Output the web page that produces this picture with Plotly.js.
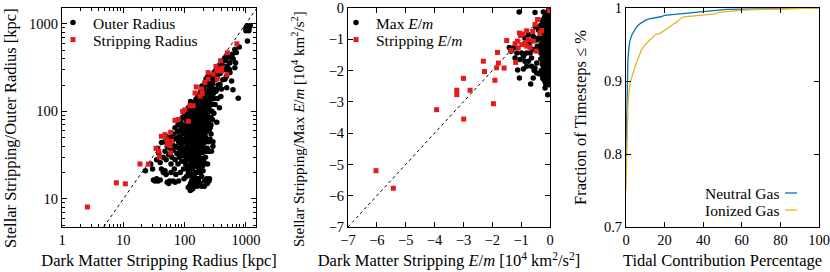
<!DOCTYPE html>
<html><head><meta charset="utf-8">
<script src="https://cdn.plot.ly/plotly-3.0.1.min.js"></script>
<style>html,body{margin:0;padding:0;background:#fff;}#chart{width:830px;height:272px;}</style>
</head><body><div id="chart"></div>
<script>
// ---------- Panel 1: radii (kpc) ----------
const outerRadiusPts = [
[23,21],[28,25],[31,16.5],[33,16],[35,17],[37,16],[40,16.5],[30,22],[35,28],[38,33],[40,26],[42,22],[36,38],
[45,20],[48,21],[50,19],[52,15.5],[55,15],[57,16],[45,30],[48,35],[50,28],[52,40],[55,32],[55,45],[58,38],[58,50],[60,25],[60,20],[47,45],[50,52],[42,44],
[62,30],[63,42],[65,36],[65,55],[67,48],[68,22],[70,28],[70,65],[72,40],[72,19],[75,33],[75,50],[76,58],[78,70],[78,25],[80,45],[80,16],[80,38],[65,16],[70,15.5],
[82,30],[83,60],[85,52],[85,20],[86,75],[88,42],[88,34],[90,65],[90,27],[92,48],[92,85],[95,38],[95,56],[96,22],[97,70],[98,31],[98,17],[99,90],[100,45],
[102,60],[103,36],[104,25],[105,80],[106,50],[107,18],[108,68],[109,42],[110,30],[110,95],[112,55],[113,22],[114,75],[115,38],[116,105],[117,48],[118,28],[119,62],[120,14],[120,85],[121,33],[122,20],[123,52],[124,70],[125,44],[126,13],[126,110],[127,25],[128,58],[129,36],[130,16],[130,78],[130,90],
[132,48],[133,30],[134,65],[135,22],[136,100],[137,40],[138,13.5],[139,55],[140,120],[141,28],[142,72],[143,35],[144,18],[145,85],[146,46],[147,60],[148,24],[149,130],[150,15],[150,95],[151,38],[152,68],[153,52],[154,20],[155,110],[156,30],[157,80],[158,44],[159,140],[160,14],[160,62],[162,26],[163,100],[164,36],[165,75],[166,50],[167,17],[168,120],[169,58],[170,32],
[172,88],[173,42],[174,150],[175,22],[176,66],[177,105],[178,48],[179,15],[180,130],[181,36],[182,78],[183,56],[184,170],[185,28],[186,95],[187,40],[188,14],[189,115],[190,62],[192,195],[193,46],[194,85],[195,34],[196,140],[197,70],[198,24],[199,52],[200,160],[202,100],[204,38],[205,75],[207,185],[208,58],[210,120],[212,44],[213,16],[214,90],[215,210],[216,66],[218,140],[219,30],[220,105],
[222,50],[224,235],[226,80],[228,170],[230,60],[232,120],[234,38],[235,200],[237,95],[239,16],[240,250],[242,70],[244,150],[246,45],[248,110],[250,220],[252,85],[255,17],[256,180],[258,130],[262,65],[265,100],[268,240],[270,55],[272,160],[275,35],[278,200],[280,120],[286,80],[290,260],[293,140],[296,180],[300,95],
[95,45],[100,58],[105,33],[108,88],[112,40],[115,62],[118,52],[122,44],[125,95],[128,40],[131,60],[134,50],[137,75],[140,42],[143,58],[146,33],[149,70],[152,45],[155,88],[158,54],[161,40],[164,66],[167,30],[170,48],[173,60],[176,85],[179,38],[182,65],[185,50],[188,72],[191,34],[194,58],[197,95],[200,42],[203,68],[206,50],[209,80],[212,36],[216,55],[220,70],
[100,27],[110,24],[120,24],[135,26],[150,27],[165,23],[180,25],[195,29],[210,26],[225,35],[140,19],[160,20],[180,20],[200,21],[130,18],[115,20],[190,18],[170,16],[150,17],[125,15],[140,14.5],[210,14],[235,15],[250,16],[115,13.5],[124,12.5],[135,13],[145,15.5],[230,17],
[105,100],[115,110],[125,130],[135,85],[145,110],[155,130],[165,150],[175,120],[185,145],[195,115],[205,135],[215,160],[225,125],[235,100],[245,130],[255,160],[265,140],[275,180],[285,210],[295,160],[230,90],[240,75],[250,60],[260,48],[270,85],[280,100],[290,45],[250,35],[270,70],[300,140],[237,25],[290,40],
[305,280],[310,230],[315,120],[320,290],[325,170],[335,75],[340,250],[345,140],[350,200],[358,330],[365,300],[370,110],[380,270],[391,148],[400,180],[410,340],[420,230],[430,380],[440,300],[455,232],[470,380],[480,250],[487,300],[500,330],[455,410],[520,420],[540,300],[550,360],[550,277],[585,410],[585,222],[487,186],[378,203],[333,178],
[600,450],[620,400],[660,510],[660,315],[680,360],[700,470],[780,542],[750,141],[616,177],
[1000,900],[1030,870],[1050,950],[1060,850],[1080,910],[1100,880],[1120,830],[1140,900],[1000,830],[1060,635],[1180,950]
];
const stripRadiusPts = [
[2.6,8.1],[7.7,15.3],[10.8,14.9],[18.7,25.1],[25.6,25],[34.2,37.8],[38.7,30.2],[37.9,35],[41.7,51.9],[47.9,54.3],[50.9,47.5],[52.8,41.7],[57.8,40.7],[59.3,57.7],[61.5,45.5],[59.3,33.6],
[69.7,79],[79,80.6],[93,100],[101,104],[115,77],[122,116],[138,116],[155,190],[148,162],[179,149],[194,160],[190,180],[215,214],[242,234],[242,277],[293,266],[325,326],[333,301],[355,293],
[385,378],[402,312],[402,288],[492,263],[340,234],[500,466],[712,590]
];
const diagRadius = [4.8, 1500];

// ---------- Panel 2: E/m (10^4 km^2/s^2) ----------
const maxEmPts = [
[-1.07,-0.13],[-0.52,-0.14],[-0.23,-0.13],[-1.41,-1.26],[-1.35,-1.38],[-1.27,-1.28],[-1.06,-2.24],[-0.98,-1.44],[-0.92,-1.54],[-0.81,-1.86],[-0.75,-1.70],[-0.69,-1.44],[-0.64,-1.60],[-0.64,-1.86],[-0.67,-2.43],[-0.58,-2.24],[-0.52,-1.92],[-0.46,-1.76],[-0.46,-2.08],[-0.44,-1.22],[-0.40,-0.96],[-0.58,-0.91],[-0.75,-0.85],[-0.87,-0.96],[-0.17,-2.56],[-0.08,-2.77],[-1.15,-1.44],[-1.21,-1.60],[-1.04,-1.65],[-0.87,-1.70],[-0.58,-1.33],[-0.81,-1.44],[-1.12,-1.98],[-0.92,-1.95],[-0.55,-2.0],[-0.38,-2.1],[-0.7,-1.1],[-0.5,-0.6],
[-0.02,-0.1],[-0.05,-0.2],[-0.1,-0.3],[-0.03,-0.35],[-0.15,-0.4],[-0.08,-0.45],[-0.2,-0.5],[-0.02,-0.55],[-0.12,-0.6],[-0.25,-0.62],[-0.05,-0.68],[-0.18,-0.7],[-0.3,-0.75],[-0.1,-0.78],[-0.02,-0.82],[-0.22,-0.85],[-0.14,-0.9],[-0.06,-0.95],[-0.35,-0.98],[-0.26,-1.0],[-0.02,-1.02],[-0.11,-1.05],[-0.19,-1.1],[-0.05,-1.13],[-0.3,-1.15],[-0.14,-1.18],[-0.08,-1.22],[-0.23,-1.25],[-0.02,-1.28],[-0.17,-1.3],[-0.1,-1.35],[-0.28,-1.38],[-0.04,-1.4],[-0.2,-1.43],[-0.13,-1.47],[-0.07,-1.5],[-0.25,-1.52],[-0.02,-1.55],[-0.16,-1.58],[-0.1,-1.62],[-0.32,-1.63],[-0.05,-1.67],[-0.21,-1.7],[-0.13,-1.73],[-0.03,-1.77],[-0.27,-1.8],[-0.09,-1.82],[-0.17,-1.86],[-0.02,-1.9],[-0.12,-1.93],[-0.24,-1.96],[-0.06,-2.0],[-0.15,-2.03],[-0.03,-2.07],[-0.2,-2.1],[-0.1,-2.13],[-0.05,-2.18],[-0.14,-2.22],[-0.02,-2.26],[-0.08,-2.3],[-0.18,-2.33],
[-0.04,-0.05],[-0.12,-0.15],[-0.07,-0.25],[-0.18,-0.28],[-0.01,-0.4],[-0.25,-0.42],[-0.1,-0.52],[-0.32,-0.55],[-0.06,-0.6],[-0.15,-0.66],[-0.4,-0.7],[-0.02,-0.73],[-0.27,-0.8],[-0.09,-0.86],[-0.17,-0.95],[-0.04,-0.98],[-0.45,-1.02],[-0.14,-1.08],[-0.07,-1.1],[-0.24,-1.2],[-0.01,-1.2],[-0.36,-1.3],[-0.12,-1.32],[-0.06,-1.45],[-0.19,-1.55],[-0.01,-1.6],[-0.27,-1.65],[-0.08,-1.72],[-0.15,-1.8],[-0.01,-1.85],[-0.22,-1.9],[-0.07,-1.95],[-0.3,-2.0],[-0.11,-2.05],[-0.01,-2.12],[-0.17,-2.16],[-0.25,-2.25],[-0.06,-2.35],[-0.12,-2.28],
[-0.03,-0.15],[-0.09,-0.38],[-0.21,-0.35],[-0.14,-0.48],[-0.04,-0.5],[-0.28,-0.68],[-0.12,-0.72],[-0.06,-0.8],[-0.19,-0.78],[-0.11,-0.93],[-0.21,-1.05],[-0.04,-1.07],[-0.16,-1.25],[-0.09,-1.28],[-0.03,-1.33],[-0.22,-1.35],[-0.13,-1.4],[-0.31,-1.45],[-0.04,-1.48],[-0.1,-1.55],[-0.23,-1.6],[-0.13,-1.65],[-0.05,-1.73],[-0.19,-1.76],[-0.11,-1.88],[-0.04,-1.83],[-0.2,-2.0],[-0.03,-2.0],[-0.13,-2.1],[-0.27,-2.15],[-0.09,-2.22],[-0.21,-2.28],[-0.04,-2.2],[-0.15,-2.42],[-0.03,-2.45]
];
const stripEmPts = [
[-6.03,-5.20],[-5.43,-5.76],[-3.93,-3.25],[-3.23,-2.63],[-3.23,-2.77],[-3.00,-2.25],[-2.99,-3.55],[-2.77,-2.63],[-2.31,-1.70],[-2.27,-2.03],[-1.91,-2.31],[-1.96,-3.06],[-1.82,-1.42],[-1.79,-1.76],[-1.85,-1.91],[-1.59,-1.92],
[-1.50,-1.04],[-1.35,-1.36],[-1.19,-1.74],[-1.21,-1.14],[-1.13,-1.06],[-1.06,-0.80],[-1.02,-0.88],[-0.98,-1.17],[-0.87,-1.12],[-0.81,-0.73],[-0.81,-1.22],[-0.69,-1.26],[-0.60,-0.75],[-0.52,-0.53],[-0.48,-1.38],[-0.43,-0.37],[-0.35,-0.80],[-0.29,-0.72],[-0.02,-0.09],[-0.58,-1.06],[-0.75,-1.01],[-0.95,-0.83],[-1.10,-1.28]
];
const diagEm = [-7, 0];

// ---------- Panel 3: cumulative tidal contribution ----------
const tidalPctNeutral = [0, 0.3, 0.6, 1.0, 1.5, 2, 3, 4, 5, 6.5, 8, 10, 12, 14, 16, 18, 20, 24, 28, 32, 36, 40, 46, 52, 60, 70, 80, 90, 100];
const fracNeutral = [0.80, 0.86, 0.905, 0.93, 0.945, 0.955, 0.963, 0.968, 0.972, 0.977, 0.980, 0.983, 0.985, 0.986, 0.986, 0.988, 0.990, 0.991, 0.992, 0.993, 0.995, 0.996, 0.997, 0.998, 0.9985, 0.999, 0.9993, 0.9997, 1.0];
const tidalPctIonized = [0, 0.3, 0.6, 1.0, 1.5, 2, 3, 4, 5, 6.5, 8, 10, 12, 14, 15, 18, 20, 22, 24, 26, 28, 30, 34, 38, 42, 46, 48, 52, 56, 60, 70, 80, 90, 100];
const fracIonized = [0.75, 0.80, 0.84, 0.865, 0.885, 0.895, 0.905, 0.915, 0.922, 0.932, 0.943, 0.950, 0.955, 0.960, 0.963, 0.966, 0.969, 0.973, 0.977, 0.980, 0.985, 0.988, 0.989, 0.990, 0.991, 0.992, 0.994, 0.995, 0.996, 0.997, 0.998, 0.999, 0.9995, 1.0];

// ---------- styling ----------
const FONT = 'Liberation Serif';
const RED = 'rgb(228,26,28)';
const BLUE = '#0072BD';
const ORANGE = '#EDB120';
const W = 830, H = 272;
const TS = 16.5;
const LS = 15.5;
const px = v => v / W, py = v => 1 - v / H;

const traces = [
  {x: diagRadius, y: diagRadius, mode: 'lines', line: {color: 'black', width: 1, dash: '3px,3px'}, xaxis: 'x', yaxis: 'y', showlegend: false},
  {x: outerRadiusPts.map(p => p[0]), y: outerRadiusPts.map(p => p[1]), mode: 'markers', name: 'Outer Radius',
   marker: {color: 'black', size: 5.5, symbol: 'circle'}, xaxis: 'x', yaxis: 'y', legend: 'legend'},
  {x: stripRadiusPts.map(p => p[0]), y: stripRadiusPts.map(p => p[1]), mode: 'markers', name: 'Stripping Radius',
   marker: {color: RED, size: 5, symbol: 'square'}, xaxis: 'x', yaxis: 'y', legend: 'legend2'},
  {x: diagEm, y: diagEm, mode: 'lines', line: {color: 'black', width: 1, dash: '3px,3px'}, xaxis: 'x2', yaxis: 'y2', showlegend: false},
  {x: maxEmPts.map(p => p[0]), y: maxEmPts.map(p => p[1]), mode: 'markers', name: 'Max <i>E</i>/<i>m</i>',
   marker: {color: 'black', size: 5.5, symbol: 'circle'}, xaxis: 'x2', yaxis: 'y2', legend: 'legend3'},
  {x: stripEmPts.map(p => p[0]), y: stripEmPts.map(p => p[1]), mode: 'markers', name: 'Stripping <i>E</i>/<i>m</i>',
   marker: {color: RED, size: 5, symbol: 'square'}, xaxis: 'x2', yaxis: 'y2', legend: 'legend4'},
  {x: tidalPctNeutral, y: fracNeutral, mode: 'lines', name: 'Neutral Gas', line: {color: BLUE, width: 1.3}, xaxis: 'x3', yaxis: 'y3', showlegend: false},
  {x: tidalPctIonized, y: fracIonized, mode: 'lines', name: 'Ionized Gas', line: {color: ORANGE, width: 1.3}, xaxis: 'x3', yaxis: 'y3', showlegend: false}
];

const axBase = {
  showline: true, linecolor: 'black', linewidth: 1, mirror: 'allticks', ticks: 'inside', ticklen: 5, tickcolor: 'black',
  showgrid: false, zeroline: false, tickfont: {family: FONT, size: 14.5, color: 'black'}, automargin: false
};
const tf = {family: FONT, size: TS, color: 'black'};
const minorLog = {ticks: 'inside', ticklen: 3, tickcolor: 'black', dtick: 'D1', showgrid: false};
const yDom = [45 / H, 264 / H];

function leg(x, y) {
  return {x: px(x), y: py(y), xanchor: 'left', yanchor: 'middle', bgcolor: 'rgba(0,0,0,0)', borderwidth: 0,
          font: {family: FONT, size: LS, color: 'black'}, itemwidth: 30, tracegroupgap: 0};
}
function ytitle(text, x, y, size) {
  return {text: text, x: px(x), y: py(y), xref: 'paper', yref: 'paper', xanchor: 'center', yanchor: 'middle',
          textangle: -90, showarrow: false, font: {family: FONT, size: size, color: 'black'}};
}
function legText(text, y) {
  return {text: text, x: px(781), y: py(y), xref: 'paper', yref: 'paper', xanchor: 'right', yanchor: 'middle',
          showarrow: false, font: {family: FONT, size: LS, color: 'black'}};
}

const layout = {
  width: W, height: H, margin: {l: 0, r: 0, t: 0, b: 0},
  paper_bgcolor: 'white', plot_bgcolor: 'white', font: {family: FONT, color: 'black'},
  xaxis: Object.assign({}, axBase, {type: 'log', range: [0, 3.165], domain: [px(62), px(256)], anchor: 'y',
    tickvals: [1, 10, 100, 1000], ticktext: ['1', '10', '100', '1000'], minor: minorLog,
    title: {text: 'Dark Matter Stripping Radius [kpc]', font: tf, standoff: 7}}),
  yaxis: Object.assign({}, axBase, {type: 'log', range: [0.68, 3.18], domain: yDom, anchor: 'x',
    tickvals: [10, 100, 1000], ticktext: ['10', '100', '1000'], minor: minorLog}),
  xaxis2: Object.assign({}, axBase, {range: [-7, 0], dtick: 1, domain: [px(348), px(550)], anchor: 'y2',
    title: {text: 'Dark Matter Stripping <i>E</i>/<i>m</i> [10<sup>4</sup> km<sup>2</sup>/s<sup>2</sup>]', font: tf, standoff: 7}}),
  yaxis2: Object.assign({}, axBase, {range: [-7, 0], dtick: 1, domain: yDom, anchor: 'x2'}),
  xaxis3: Object.assign({}, axBase, {range: [0, 100], dtick: 20, domain: [px(626), px(819)], anchor: 'y3',
    title: {text: 'Tidal Contribution Percentage', font: tf, standoff: 7}}),
  yaxis3: Object.assign({}, axBase, {range: [0.7, 1.0], dtick: 0.1, domain: yDom, anchor: 'x3'}),
  legend: leg(53, 23), legend2: leg(53, 40), legend3: leg(336, 23), legend4: leg(336, 40),
  annotations: [
    ytitle('Stellar Stripping/Outer Radius [kpc]', 10, 128, TS),
    ytitle('Stellar Stripping/Max <i>E</i>/<i>m</i> [10<sup>4</sup> km<sup>2</sup>/s<sup>2</sup>]', 298, 129, 15),
    ytitle('Fraction of Timesteps ≤ %', 580, 118, TS),
    legText('Neutral Gas', 193),
    legText('Ionized Gas', 210)
  ],
  shapes: [
    {type: 'line', xref: 'paper', yref: 'paper', x0: px(785), x1: px(797), y0: py(193), y1: py(193), line: {color: BLUE, width: 1.3}},
    {type: 'line', xref: 'paper', yref: 'paper', x0: px(785), x1: px(797), y0: py(210), y1: py(210), line: {color: ORANGE, width: 1.3}}
  ]
};

Plotly.newPlot('chart', traces, layout, {staticPlot: true, displayModeBar: false});
</script></body></html>
